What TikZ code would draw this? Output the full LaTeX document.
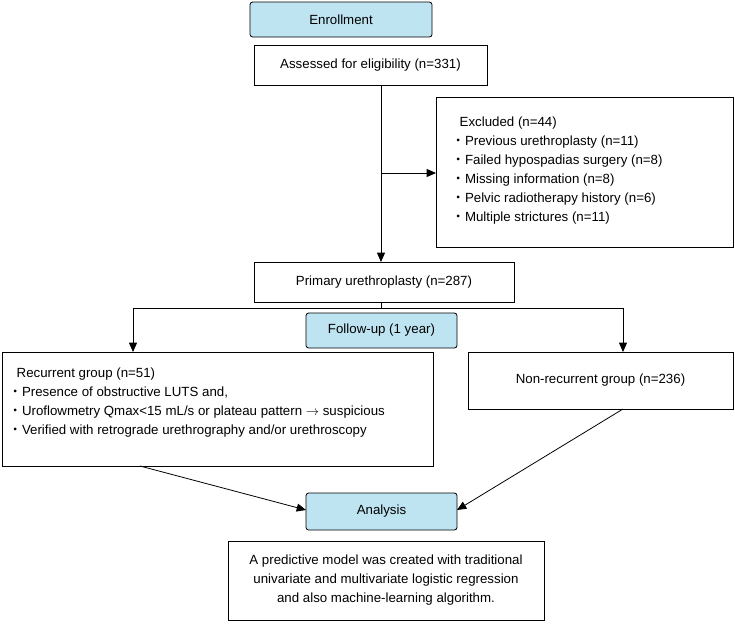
\documentclass[tikz,border=0pt]{standalone}
\usepackage{fontspec}
\setmainfont{Liberation Sans}
\newfontfamily\cjk{Noto Sans CJK JP}
\newcommand{\bul}{\hspace*{-6pt}{\cjk ・}}
\usetikzlibrary{arrows.meta}
\definecolor{hdr}{HTML}{BEE4F2}
\begin{document}
\begin{tikzpicture}[x=0.02646cm,y=-0.02646cm,font=\fontsize{10}{14.3}\selectfont,
 box/.style={draw,line width=0.6pt},
 hd/.style={draw,fill=hdr,rounded corners=2pt,line width=0.6pt},
 ar/.style={line width=0.6pt,-{Triangle[length=7pt,width=6pt]}},
 ln/.style={line width=0.6pt}]
\useasboundingbox (0,0) rectangle (735,623);
\draw[hd] (250,2) rectangle (432,37); \node (enrt) at (341,19.5) {Enrollment};
\draw[box] (254,45) rectangle (487,85); \node (ass) at (370.5,65) {Assessed for eligibility (n=331)};
\coordinate (assb) at (381,85);
\draw[box] (436,97) rectangle (733,247);
\node[anchor=north west,align=left] (exc) at (455,112) {Excluded (n=44)\\
\bul Previous urethroplasty (n=11)\\
\bul Failed hypospadias surgery (n=8)\\
\bul Missing information (n=8)\\
\bul Pelvic radiotherapy history (n=6)\\
\bul Multiple strictures (n=11)};
\coordinate (excl) at (436,173);
\coordinate (br1) at (381,173);
\draw[box] (254,262) rectangle (514,302); \node (pri) at (384,282) {Primary urethroplasty (n=287)};
\coordinate (prit) at (381,262);
\coordinate (prib) at (381,302);
\draw[ln] (assb) -- (br1);
\draw[ar] (br1) -- (prit);
\draw[ar] (br1) -- (excl);
\coordinate (hl) at (133,308); \coordinate (hr) at (623,308); \coordinate (hm) at (381,308);
\draw[ln] (prib) -- (hm);
\draw[ln] (hl) -- (hr);
\draw[hd] (306,313) rectangle (457,348); \node (fol) at (381.5,330.5) {Follow-up (1 year)};
\draw[box] (2,352) rectangle (433,466);
\node[anchor=north west,align=left] (rec) at (12,363) {Recurrent group (n=51)\\
\bul Presence of obstructive LUTS and,\\
\bul Uroflowmetry Qmax<15 mL/s or plateau pattern $\rightarrow$ suspicious\\
\bul Verified with retrograde urethrography and/or urethroscopy};
\draw[box] (468,352) rectangle (733,409); \node (non) at (600.5,380.5) {Non-recurrent group (n=236)};
\coordinate (rect) at (133,352); \coordinate (nont) at (623,352);
\draw[ar] (hl) -- (rect);
\draw[ar] (hr) -- (nont);
\draw[hd] (306,493) rectangle (457,530); \node (ana) at (381.5,511.5) {Analysis};
\coordinate (recb) at (140,466); \coordinate (nonb) at (623,409);
\coordinate (anl) at (306,510); \coordinate (anr) at (457,510);
\draw[ar] (recb) -- (anl);
\draw[ar] (nonb) -- (anr);
\draw[box] (228,541) rectangle (544,620);
\node[align=center] (mod) at (386,580.5) {A predictive model was created with traditional\\univariate and multivariate logistic regression\\and also machine-learning algorithm.};
\end{tikzpicture}
\end{document}
